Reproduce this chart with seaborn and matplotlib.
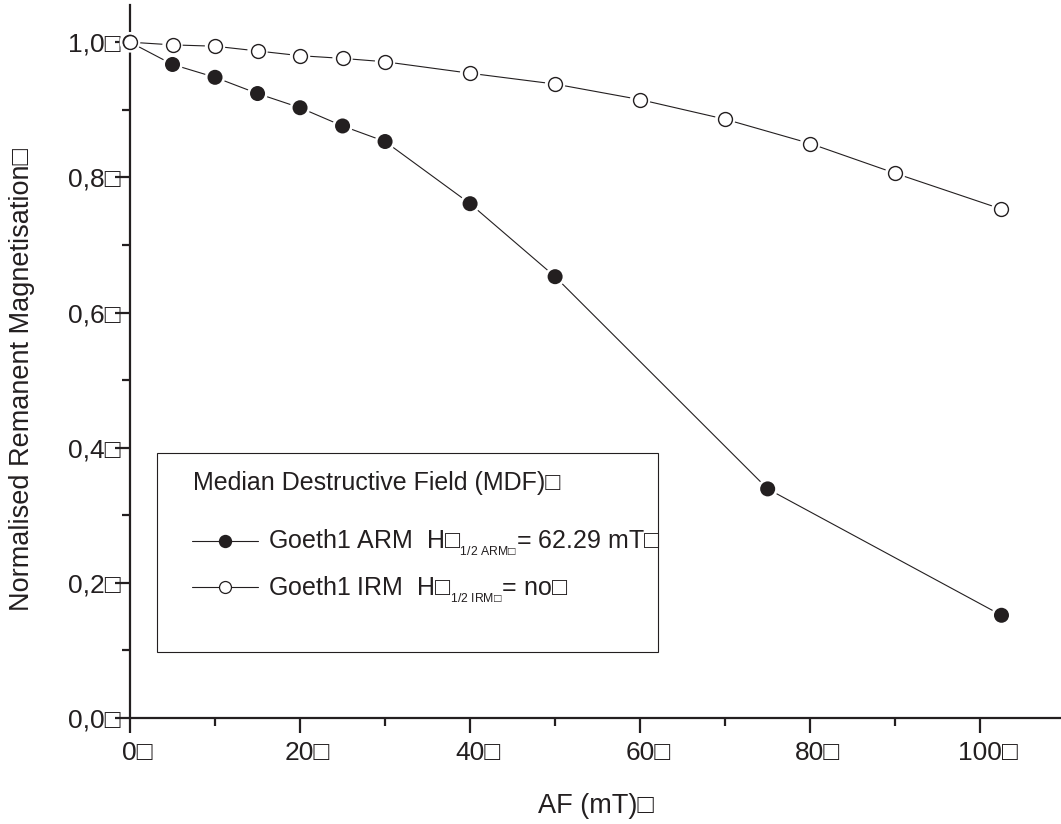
import matplotlib
matplotlib.use("Agg")
import matplotlib.pyplot as plt
import matplotlib.transforms as mtransforms
from matplotlib.lines import Line2D
from matplotlib.patches import Rectangle
from matplotlib.ticker import MultipleLocator, FixedLocator
import seaborn as sns
import pandas as pd

# AF demagnetisation steps (mT) and normalised remanence
af_arm = [0, 5, 10, 15, 20, 25, 30, 40, 50, 75, 102.5]
arm = [1.0, 0.967, 0.948, 0.924, 0.903, 0.876, 0.853, 0.761, 0.653, 0.339, 0.152]
af_irm = [0, 5, 10, 15, 20, 25, 30, 40, 50, 60, 70, 80, 90, 102.5]
irm = [1.0, 0.996, 0.994, 0.987, 0.980, 0.976, 0.971, 0.954, 0.938, 0.915, 0.886, 0.850, 0.806, 0.753]

BOX = "\u25a1"
x_ticks = [0, 20, 40, 60, 80, 100]
x_tick_labels = ["0" + BOX, "20" + BOX, "40" + BOX, "60" + BOX, "80" + BOX, "100" + BOX]
y_ticks = [0.0, 0.2, 0.4, 0.6, 0.8, 1.0]
y_tick_labels = ["0,0" + BOX, "0,2" + BOX, "0,4" + BOX, "0,6" + BOX, "0,8" + BOX, "1,0" + BOX]
x_label = "AF (mT)" + BOX
y_label = "Normalised Remanent Magnetisation" + BOX
legend_title = "Median Destructive Field (MDF)" + BOX
label_arm = "Goeth1 ARM  H" + BOX + r"${}_{{}_{\mathrm{1/2\ ARM" + BOX + r"}}}$= 62.29 mT" + BOX
label_irm = "Goeth1 IRM  H" + BOX + r"${}_{{}_{\mathrm{1/2\ IRM" + BOX + r"}}}$= no" + BOX

sns.set_style("ticks")
plt.rcParams["font.family"] = ["Liberation Sans", "DejaVu Sans"]
plt.rcParams["mathtext.fontset"] = "custom"
plt.rcParams["mathtext.rm"] = "Liberation Sans"
plt.rcParams["mathtext.it"] = "Liberation Sans:italic"
plt.rcParams["mathtext.bf"] = "Liberation Sans:bold"
plt.rcParams["mathtext.sf"] = "Liberation Sans"

INK = "#231f20"

df_arm = pd.DataFrame({"af": af_arm, "m": arm})
df_irm = pd.DataFrame({"af": af_irm, "m": irm})

fig = plt.figure(figsize=(10.61, 8.24), dpi=100)
ax = fig.add_axes([130 / 1061, 106 / 824, 931 / 1061, 713 / 824])

# connecting lines
for df in (df_arm, df_irm):
    sns.lineplot(data=df, x="af", y="m", ax=ax, color=INK, lw=0.8,
                 sort=False, estimator=None, zorder=2)

# white halos leave a small gap between line and symbol
for df in (df_arm, df_irm):
    sns.scatterplot(data=df, x="af", y="m", ax=ax, s=215, color="white",
                    edgecolor="none", linewidth=0, zorder=3, clip_on=False)

sns.scatterplot(data=df_arm, x="af", y="m", ax=ax, s=117, color=INK,
                edgecolor="none", linewidth=0, zorder=4, clip_on=False)
sns.scatterplot(data=df_irm, x="af", y="m", ax=ax, s=100, color="white",
                edgecolor=INK, linewidth=1.0, zorder=5, clip_on=False)

ax.set_xlim(0, 109.5)
ax.set_ylim(0, 1.055)

sns.despine(ax=ax)
for side in ("left", "bottom"):
    ax.spines[side].set_linewidth(1.6)
    ax.spines[side].set_color(INK)

ax.xaxis.set_major_locator(FixedLocator(x_ticks))
ax.xaxis.set_minor_locator(MultipleLocator(10))
ax.yaxis.set_major_locator(FixedLocator(y_ticks))
ax.yaxis.set_minor_locator(MultipleLocator(0.1))
ax.set_xticklabels(x_tick_labels)
ax.set_yticklabels(y_tick_labels)

ax.tick_params(axis="both", which="major", direction="out", length=10.8,
               width=1.6, color=INK, labelsize=19, labelcolor=INK)
ax.tick_params(axis="both", which="minor", direction="out", length=5.8,
               width=1.6, color=INK)
ax.tick_params(axis="y", which="major", pad=-4.3)
ax.tick_params(axis="x", which="major", pad=6)

# keep the numerals centred on their ticks
shift = mtransforms.ScaledTranslation(5.5 / 72, 0, fig.dpi_scale_trans)
for lab in ax.get_xticklabels():
    lab.set_transform(lab.get_transform() + shift)

ax.set_xlabel(x_label, fontsize=19.5, color=INK, va="center")
ax.set_ylabel(y_label, fontsize=19.5, color=INK, va="center")
ax.xaxis.set_label_coords(0.5, -0.123)
ax.yaxis.set_label_coords(-0.116, 0.474)

# legend panel
ax.add_patch(Rectangle((0.0290, 0.0926), 0.5381, 0.2791, transform=ax.transAxes,
                       fill=False, edgecolor=INK, linewidth=0.8, zorder=6))
ax.text(0.0677, 0.3198, legend_title, transform=ax.transAxes, fontsize=18,
        color=INK, va="baseline", ha="left", zorder=7)

handles = [
    Line2D([], [], color=INK, lw=0.8, marker="o", markersize=9.6,
           markerfacecolor=INK, markeredgecolor=INK, markeredgewidth=0),
    Line2D([], [], color=INK, lw=0.8, marker="o", markersize=8.6,
           markerfacecolor="white", markeredgecolor=INK, markeredgewidth=0.9),
]
leg = ax.legend(handles, [label_arm, label_irm], loc="upper left",
                bbox_to_anchor=(0.0666, 0.266), frameon=False, fontsize=18,
                handlelength=2.64, handletextpad=0.4, labelspacing=0.66,
                borderpad=0, borderaxespad=0)
for t in leg.get_texts():
    t.set_color(INK)

fig.savefig("out.png", dpi=100)
